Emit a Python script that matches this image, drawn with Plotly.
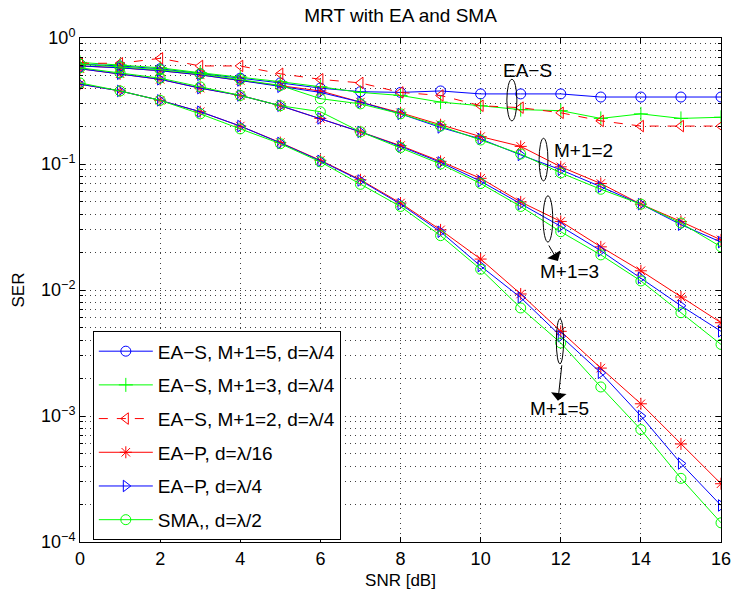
import math
import plotly.graph_objects as go

snr = list(range(0, 17))

# EA-S curves
eas_m5 = [0.62, 0.60, 0.57, 0.52, 0.48, 0.44, 0.40, 0.375, 0.37, 0.38, 0.36, 0.36, 0.36, 0.34, 0.34, 0.34, 0.34]
eas_m3 = [0.64, 0.61, 0.58, 0.53, 0.49, 0.45, 0.41, 0.37, 0.35, 0.31, 0.29, 0.27, 0.265, 0.23, 0.25, 0.23, 0.235]
eas_m2 = [0.63, 0.63, 0.69, 0.60, 0.60, 0.52, 0.47, 0.44, 0.37, 0.35, 0.29, 0.28, 0.255, 0.22, 0.20, 0.20, 0.20]

# EA-P d=lambda/16
eap16_m2 = [0.60, 0.58, 0.55, 0.51, 0.46, 0.42, 0.38, 0.31, 0.255, 0.205, 0.165, 0.138, 0.095, 0.070, 0.048, 0.035, 0.025]
eap16_m3 = [0.57, 0.52, 0.47, 0.40, 0.35, 0.29, 0.23, 0.18, 0.14, 0.105, 0.077, 0.050, 0.035, 0.022, 0.0142, 0.0088, 0.0055]
eap16_m5 = [0.43, 0.38, 0.32, 0.26, 0.20, 0.148, 0.107, 0.075, 0.049, 0.030, 0.0176, 0.0093, 0.0047, 0.0024, 0.00125, 0.00060, 0.00029]

# EA-P d=lambda/4
eap4_m2 = [0.60, 0.58, 0.55, 0.51, 0.46, 0.41, 0.37, 0.31, 0.25, 0.195, 0.158, 0.118, 0.090, 0.066, 0.048, 0.033, 0.024]
eap4_m3 = [0.57, 0.52, 0.47, 0.40, 0.35, 0.29, 0.23, 0.18, 0.138, 0.103, 0.073, 0.048, 0.032, 0.0205, 0.0125, 0.0075, 0.0047]
eap4_m5 = [0.43, 0.38, 0.32, 0.26, 0.20, 0.147, 0.106, 0.074, 0.048, 0.029, 0.0155, 0.0087, 0.0043, 0.0022, 0.0010, 0.00042, 0.000195]

# SMA d=lambda/2
sma_m2 = [0.62, 0.59, 0.56, 0.52, 0.47, 0.42, 0.33, 0.30, 0.25, 0.20, 0.155, 0.120, 0.085, 0.063, 0.048, 0.034, 0.022]
sma_m3 = [0.58, 0.53, 0.48, 0.41, 0.35, 0.29, 0.26, 0.18, 0.135, 0.100, 0.070, 0.046, 0.029, 0.019, 0.0118, 0.0066, 0.0037]
sma_m5 = [0.44, 0.38, 0.32, 0.25, 0.19, 0.145, 0.104, 0.069, 0.046, 0.027, 0.0146, 0.0072, 0.0038, 0.0017, 0.00078, 0.00032, 0.000142]

ytick_exp = [-4, -3, -2, -1, 0]

BLUE, GREEN, RED = "#0000FF", "#00FF00", "#FF0000"
FONT = "Liberation Sans, Arial, Helvetica, sans-serif"
GRID = "rgba(0,0,0,0.75)"
GDASH = "1px,4px"

series = [
    ("EA−S, M+1=5, d=λ/4", [eas_m5], BLUE, "circle-open", "solid"),
    ("EA−S, M+1=3, d=λ/4", [eas_m3], GREEN, "cross-thin-open", "solid"),
    ("EA−S, M+1=2, d=λ/4", [eas_m2], RED, "triangle-left-open", "dash"),
    ("EA−P, d=λ/16", [eap16_m2, eap16_m3, eap16_m5], RED, "asterisk-open", "solid"),
    ("EA−P, d=λ/4", [eap4_m2, eap4_m3, eap4_m5], BLUE, "triangle-right-open", "solid"),
    ("SMA,, d=λ/2", [sma_m2, sma_m3, sma_m5], GREEN, "circle-open", "solid"),
]

fig = go.Figure()
for gi, (name, curves, color, sym, dash) in enumerate(series):
    for ci, ys in enumerate(curves):
        fig.add_trace(go.Scatter(
            x=snr, y=ys, mode="lines+markers", name=name,
            legendgroup=f"g{gi}", showlegend=(ci == 0),
            line=dict(color=color, width=1, dash=dash),
            marker=dict(symbol=sym, size=10, color=color, line=dict(color=color, width=1)),
        ))

minor_vals = [k * 10 ** e for e in range(-4, 0) for k in range(2, 10)]

fig.update_xaxes(
    range=[0, 16], tickvals=list(range(0, 17, 2)), ticks="inside", ticklen=5,
    tickcolor="black", showline=True, linecolor="black", linewidth=1, mirror="allticks",
    showgrid=True, gridcolor=GRID, griddash=GDASH, gridwidth=1, automargin=False,
    zeroline=False, tickfont=dict(size=18, color="black", family=FONT),
    title=dict(text="SNR [dB]", font=dict(size=17, color="black", family=FONT), standoff=6),
)
fig.update_yaxes(
    type="log", range=[-4, 0],
    tickvals=[10 ** e for e in ytick_exp],
    ticktext=[f"10<sup>{'−' if e < 0 else ''}{abs(e)}</sup>" for e in ytick_exp],
    ticks="inside", ticklen=5, tickcolor="black", automargin=False,
    showline=True, linecolor="black", linewidth=1, mirror="allticks",
    showgrid=True, gridcolor=GRID, griddash=GDASH, gridwidth=1,
    minor=dict(tickvals=minor_vals, ticks="inside", ticklen=3, tickcolor="black",
               showgrid=True, gridcolor=GRID, griddash=GDASH, gridwidth=1),
    zeroline=False, tickfont=dict(size=18, color="black", family=FONT),
    title=dict(text="SER", font=dict(size=17, color="black", family=FONT), standoff=12),
)

def yp(v):
    return (math.log10(v) + 4) / 4

ellipses = [(10.78, 0.125, 0.47, 0.22), (11.57, 0.11, 0.16, 0.0735),
            (11.68, 0.12, 0.0559, 0.0240), (11.98, 0.09, 0.0059, 0.0026)]
for xc, hw, ytop, ybot in ellipses:
    fig.add_shape(type="circle", xref="x", yref="paper", x0=xc - hw, x1=xc + hw,
                  y0=yp(ybot), y1=yp(ytop), line=dict(color="black", width=1))

labels = [("EA−S", 11.16, 0.557), ("M+1=2", 12.56, 0.127),
          ("M+1=3", 12.23, 0.0141), ("M+1=5", 11.98, 0.00114)]
for txt, xx, yy in labels:
    fig.add_annotation(x=xx, y=math.log10(yy), text=txt, showarrow=False,
                       font=dict(size=19, color="black", family=FONT))

arrows = [(11.93, 0.0170, -10, -17), (11.93, 0.00132, 4, -37)]
for xx, yy, ax, ay in arrows:
    fig.add_annotation(x=xx, y=math.log10(yy), ax=ax, ay=ay, text="", showarrow=True,
                       arrowhead=1, arrowsize=2.6, arrowwidth=1, arrowcolor="black")

fig.update_layout(
    width=733, height=594,
    margin=dict(l=80, r=12, t=38, b=52),
    paper_bgcolor="white", plot_bgcolor="white",
    title=dict(text="MRT with EA and SMA", x=0.5465, xanchor="center", y=1 - 15 / 594,
               yanchor="middle", font=dict(size=19, color="black", family=FONT)),
    legend=dict(x=0.02, y=0.418, xanchor="left", yanchor="top", bgcolor="white",
                bordercolor="black", borderwidth=1, tracegroupgap=6, itemwidth=54,
                font=dict(size=19, color="black", family=FONT)),
    font=dict(family=FONT, color="black"),
)

fig.write_html("out.html")
